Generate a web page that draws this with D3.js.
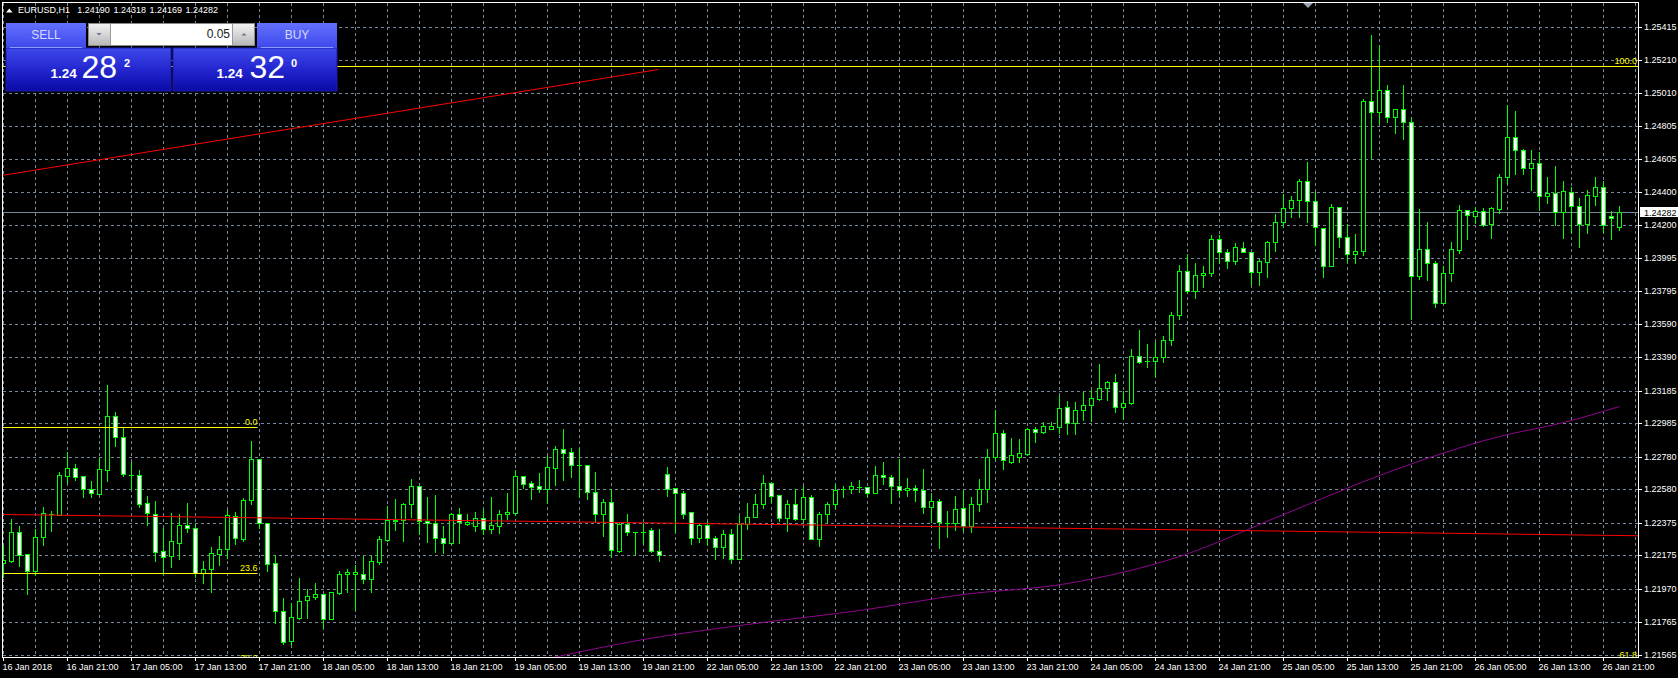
<!DOCTYPE html>
<html>
<head>
<meta charset="utf-8">
<script src="https://cdn.jsdelivr.net/npm/d3@7/dist/d3.min.js"></script>
<style>
html,body{margin:0;padding:0;background:#000;overflow:hidden;}
svg{display:block;}
</style>
</head>
<body>
<svg id="chart" width="1678" height="678"></svg>
<script>
// ---------------- DATA (EURUSD H1, 16 Jan 2018 13:00 -> 26 Jan 2018 23:00) ----------------
const opens = [1.22128,1.22140,1.22318,1.22183,1.22079,1.22287,1.22428,1.22422,1.22661,1.22710,
1.22661,1.22581,1.22551,1.22698,1.23029,1.22900,1.22667,1.22667,1.22496,1.22428,
1.22201,1.22171,1.22250,1.22361,1.22342,1.22067,1.22091,1.22183,1.22214,1.22416,
1.22275,1.22514,1.22765,1.22373,1.22128,1.21834,1.21650,1.21791,1.21901,1.21919,
1.21938,1.21785,1.21944,1.22060,1.22060,1.22060,1.22030,1.22134,1.22269,1.22385,
1.22391,1.22489,1.22600,1.22385,1.22373,1.22281,1.22250,1.22428,1.22367,1.22355,
1.22404,1.22336,1.22355,1.22428,1.22434,1.22661,1.22618,1.22600,1.22581,1.22710,
1.22827,1.22808,1.22729,1.22729,1.22563,1.22428,1.22502,1.22201,1.22367,1.22318,
1.22318,1.22330,1.22201,1.22673,1.22588,1.22557,1.22440,1.22281,1.22361,1.22281,
1.22226,1.22306,1.22152,1.22367,1.22410,1.22489,1.22618,1.22545,1.22404,1.22489,
1.22398,1.22532,1.22275,1.22428,1.22489,1.22581,1.22581,1.22594,1.22594,1.22557,
1.22667,1.22655,1.22600,1.22575,1.22588,1.22575,1.22471,1.22508,1.22373,1.22373,
1.22465,1.22355,1.22489,1.22581,1.22778,1.22925,1.22747,1.22778,1.22796,1.22949,
1.22931,1.22949,1.22961,1.23084,1.22986,1.23066,1.23096,1.23133,1.23201,1.23237,
1.23084,1.23109,1.23397,1.23366,1.23366,1.23391,1.23495,1.23648,1.23918,1.23795,
1.23893,1.23906,1.24114,1.24034,1.23979,1.24059,1.24034,1.23912,1.23973,1.24095,
1.24218,1.24304,1.24353,1.24469,1.24347,1.24181,1.23948,1.24310,1.24126,1.24022,
1.24040,1.24960,1.24892,1.25027,1.24862,1.24911,1.24831,1.23887,1.24053,1.23967,
1.23722,1.23906,1.24046,1.24292,1.24255,1.24286,1.24206,1.24298,1.24493,1.24739,
1.24659,1.24549,1.24580,1.24378,1.24396,1.24279,1.24402,1.24316,1.24206,1.24378,
1.24432,1.24255,1.24190];
const highs = [1.22238,1.22398,1.22355,1.22183,1.22336,1.22471,1.22447,1.22686,1.22808,1.22735,
1.22661,1.22630,1.22771,1.23219,1.23053,1.22961,1.22747,1.22698,1.22539,1.22508,
1.22342,1.22434,1.22428,1.22496,1.22367,1.22140,1.22226,1.22293,1.22453,1.22440,
1.22526,1.22876,1.22765,1.22373,1.22177,1.21913,1.21883,1.22036,1.21968,1.22005,
1.21938,1.21950,1.22079,1.22091,1.22116,1.22171,1.22171,1.22293,1.22477,1.22520,
1.22496,1.22643,1.22600,1.22532,1.22545,1.22355,1.22434,1.22465,1.22428,1.22440,
1.22459,1.22532,1.22453,1.22557,1.22698,1.22661,1.22630,1.22680,1.22784,1.22845,
1.22949,1.22833,1.22833,1.22729,1.22686,1.22520,1.22581,1.22379,1.22428,1.22318,
1.22373,1.22342,1.22336,1.22716,1.22588,1.22569,1.22440,1.22373,1.22379,1.22293,
1.22330,1.22336,1.22416,1.22496,1.22551,1.22667,1.22624,1.22545,1.22514,1.22581,
1.22600,1.22545,1.22440,1.22502,1.22612,1.22600,1.22624,1.22637,1.22594,1.22722,
1.22747,1.22667,1.22765,1.22649,1.22606,1.22704,1.22557,1.22520,1.22447,1.22539,
1.22575,1.22532,1.22643,1.22827,1.23066,1.22943,1.22894,1.22888,1.22955,1.22961,
1.22992,1.22992,1.23152,1.23121,1.23115,1.23176,1.23188,1.23348,1.23243,1.23286,
1.23182,1.23440,1.23556,1.23470,1.23482,1.23519,1.23666,1.23955,1.24022,1.23967,
1.23948,1.24138,1.24138,1.24053,1.24089,1.24095,1.24034,1.23991,1.24102,1.24267,
1.24390,1.24378,1.24481,1.24586,1.24402,1.24181,1.24328,1.24310,1.24206,1.24145,
1.24972,1.25364,1.25303,1.25058,1.24911,1.25058,1.24862,1.24298,1.24218,1.23979,
1.23948,1.24095,1.24322,1.24292,1.24310,1.24304,1.24310,1.24512,1.24935,1.24899,
1.24665,1.24659,1.24646,1.24493,1.24561,1.24469,1.24432,1.24365,1.24414,1.24493,
1.24469,1.24286,1.24318];
const lows = [1.22042,1.22134,1.22109,1.21938,1.22054,1.22238,1.22324,1.22422,1.22618,1.22637,
1.22532,1.22532,1.22551,1.22630,1.22845,1.22661,1.22581,1.22471,1.22361,1.22140,
1.22060,1.22103,1.22152,1.22318,1.22042,1.22005,1.21950,1.22116,1.22158,1.22244,
1.22263,1.22489,1.22342,1.22079,1.21760,1.21632,1.21632,1.21785,1.21791,1.21907,
1.21729,1.21785,1.21938,1.21950,1.21840,1.22005,1.21950,1.22122,1.22263,1.22330,
1.22263,1.22410,1.22306,1.22257,1.22195,1.22189,1.22244,1.22250,1.22361,1.22324,
1.22306,1.22312,1.22312,1.22398,1.22422,1.22588,1.22520,1.22563,1.22496,1.22606,
1.22637,1.22655,1.22532,1.22520,1.22379,1.22293,1.22171,1.22195,1.22299,1.22183,
1.22250,1.22195,1.22140,1.22539,1.22318,1.22404,1.22244,1.22257,1.22238,1.22152,
1.22158,1.22128,1.22152,1.22336,1.22410,1.22465,1.22502,1.22385,1.22324,1.22391,
1.22379,1.22275,1.22232,1.22379,1.22465,1.22532,1.22557,1.22563,1.22532,1.22557,
1.22612,1.22496,1.22532,1.22539,1.22508,1.22434,1.22379,1.22220,1.22287,1.22330,
1.22330,1.22318,1.22447,1.22502,1.22759,1.22704,1.22741,1.22747,1.22790,1.22870,
1.22925,1.22949,1.22925,1.22919,1.22919,1.23004,1.22998,1.23127,1.23127,1.23053,
1.23011,1.23102,1.23354,1.23329,1.23268,1.23360,1.23464,1.23624,1.23783,1.23752,
1.23820,1.23887,1.23967,1.23936,1.23961,1.24034,1.23832,1.23832,1.23881,1.24040,
1.24187,1.24249,1.24249,1.24218,1.24077,1.23881,1.23948,1.24065,1.23973,1.23967,
1.24016,1.24610,1.24819,1.24831,1.24764,1.24727,1.23624,1.23869,1.23863,1.23697,
1.23722,1.23856,1.24028,1.24114,1.24212,1.24194,1.24120,1.24273,1.24457,1.24512,
1.24512,1.24414,1.24292,1.24335,1.24200,1.24120,1.24151,1.24065,1.24151,1.24322,
1.24157,1.24114,1.24169];
const closes = [1.22146,1.22318,1.22177,1.22079,1.22287,1.22434,1.22428,1.22667,1.22710,1.22655,
1.22581,1.22557,1.22704,1.23029,1.22900,1.22673,1.22667,1.22489,1.22434,1.22195,
1.22165,1.22263,1.22361,1.22342,1.22067,1.22091,1.22189,1.22214,1.22422,1.22281,
1.22514,1.22765,1.22373,1.22122,1.21834,1.21644,1.21797,1.21895,1.21926,1.21938,
1.21785,1.21950,1.22060,1.22073,1.22073,1.22030,1.22140,1.22275,1.22391,1.22391,
1.22489,1.22600,1.22385,1.22373,1.22281,1.22250,1.22428,1.22379,1.22379,1.22404,
1.22336,1.22361,1.22428,1.22440,1.22661,1.22612,1.22594,1.22581,1.22716,1.22827,
1.22802,1.22729,1.22729,1.22563,1.22428,1.22502,1.22207,1.22367,1.22318,1.22318,
1.22318,1.22201,1.22177,1.22581,1.22557,1.22428,1.22281,1.22361,1.22281,1.22226,
1.22306,1.22152,1.22367,1.22410,1.22489,1.22618,1.22539,1.22404,1.22489,1.22398,
1.22532,1.22275,1.22428,1.22489,1.22575,1.22581,1.22600,1.22594,1.22557,1.22667,
1.22655,1.22600,1.22575,1.22588,1.22575,1.22471,1.22508,1.22379,1.22373,1.22459,
1.22355,1.22489,1.22581,1.22778,1.22925,1.22759,1.22790,1.22802,1.22949,1.22931,
1.22968,1.22968,1.23078,1.22986,1.23066,1.23096,1.23139,1.23201,1.23237,1.23084,
1.23109,1.23397,1.23360,1.23366,1.23391,1.23495,1.23648,1.23918,1.23795,1.23893,
1.23906,1.24114,1.24034,1.23979,1.24065,1.24034,1.23912,1.23979,1.24095,1.24218,
1.24304,1.24353,1.24469,1.24347,1.24187,1.23948,1.24310,1.24126,1.24022,1.24040,
1.24960,1.24892,1.25027,1.24862,1.24911,1.24831,1.23887,1.24053,1.23967,1.23722,
1.23906,1.24053,1.24292,1.24261,1.24286,1.24200,1.24304,1.24493,1.24739,1.24659,
1.24549,1.24580,1.24378,1.24396,1.24279,1.24408,1.24316,1.24206,1.24384,1.24432,
1.24200,1.24243,1.24282];

// time axis labels, one every 8 hourly bars (bar 0 = 16 Jan 13:00)
const timeLabels = ["16 Jan 2018","16 Jan 21:00","17 Jan 05:00","17 Jan 13:00","17 Jan 21:00",
"18 Jan 05:00","18 Jan 13:00","18 Jan 21:00","19 Jan 05:00","19 Jan 13:00","19 Jan 21:00",
"22 Jan 05:00","22 Jan 13:00","22 Jan 21:00","23 Jan 05:00","23 Jan 13:00","23 Jan 21:00",
"24 Jan 05:00","24 Jan 13:00","24 Jan 21:00","25 Jan 05:00","25 Jan 13:00","25 Jan 21:00",
"26 Jan 05:00","26 Jan 13:00","26 Jan 21:00"];
const timeLabelBars = [0,8,16,24,32,40,48,56,64,72,80,88,96,104,112,120,128,136,144,152,160,168,176,184,192,200];
const gridBars = [0,4,8,12,16,20,24,28,32,36,40,44,48,52,56,60,64,68,72,76,80,84,88,92,96,100,104,108,112,116,120,124,128,132,136,140,144,148,152,156,160,164,168,172,176,180,184,188,192,196,200,204];

// price axis tick labels
const priceTicks = [1.25415,1.25210,1.25010,1.24805,1.24605,1.24400,1.24200,1.23995,1.23795,1.23590,
1.23390,1.23185,1.22985,1.22780,1.22580,1.22375,1.22175,1.21970,1.21765,1.21565];

// moving average (purple), sampled values [bar, price]
const maBars   = [67, 80, 93, 107, 120, 133, 147, 160, 173, 187, 195, 202];
const maValues = [1.21533,1.21662,1.21754,1.21840,1.21938,1.22005,1.22171,1.22428,1.22686,1.22906,1.22992,1.23090];

// trend lines (red): [bar1, price1, bar2, price2]
const trendUpper = [-1, 1.24502, 81.85, 1.25154];
const trendLower = [0, 1.22428, 202, 1.22301];

// Fibonacci levels
const fibRightLabels = ["100.0", "61.8"];
const fibRightPrices = [1.25174, 1.21533];
const fibLeftLabels  = ["0.0", "23.6", "38.2"];
const fibLeftPrices  = [1.22961, 1.22067, 1.21514];
const fibLeftEndBar  = 31.75;

// one-click trading panel
const symbol = "EURUSD,H1";
const bid = 1.24282, ask = 1.24320, lot = "0.05";

// ---------------- DRAWING ----------------
const FONT = '"Liberation Sans", Arial, sans-serif';
const svg = d3.select("#chart").attr("font-family", FONT);
svg.append("rect").attr("width", 1678).attr("height", 678).attr("fill", "#000");

const L = 3, T = 3, R = 1638, B = 657;
const n = opens.length;
const x = d3.scaleLinear().domain([0, n - 1]).range([3, 3 + 8 * (n - 1)]);
const y = d3.scaleLinear().domain([1.21565, 1.25415]).range([654.8, 26.75]).interpolate(d3.interpolateRound);

const defs = svg.append("defs");
defs.append("clipPath").attr("id", "plotClip").append("rect")
  .attr("x", L).attr("y", T).attr("width", R - L).attr("height", B - T);

function vgrad(id, stops) {
  const g = defs.append("linearGradient").attr("id", id).attr("x1", 0).attr("y1", 0).attr("x2", 0).attr("y2", 1);
  stops.forEach(s => g.append("stop").attr("offset", s[0]).attr("stop-color", s[1]));
}
vgrad("hdrGrad", [[0, "#6470ff"], [1, "#3d48ea"]]);
vgrad("priceGrad", [[0, "#3e4aea"], [0.5, "#2326cf"], [1, "#0a0aa6"]]);
vgrad("spinGrad", [[0, "#f2f2f2"], [1, "#b9b9b9"]]);

const gridColor = "#778899";
const plotG = svg.append("g").attr("clip-path", "url(#plotClip)");

// grid
plotG.append("g").selectAll("line").data(priceTicks).join("line")
  .attr("x1", L).attr("x2", R).attr("y1", d => y(d) + 0.5).attr("y2", d => y(d) + 0.5)
  .attr("stroke", gridColor).attr("stroke-dasharray", "3,3");
plotG.append("g").selectAll("line").data(gridBars).join("line")
  .attr("x1", d => x(d) + 0.5).attr("x2", d => x(d) + 0.5).attr("y1", T).attr("y2", B)
  .attr("stroke", gridColor).attr("stroke-dasharray", "3,3");

// bid line
plotG.append("line").attr("x1", L).attr("x2", R)
  .attr("y1", y(bid) + 0.5).attr("y2", y(bid) + 0.5).attr("stroke", gridColor);

// candles
const bars = d3.range(n).map(i => ({ i, o: opens[i], h: highs[i], l: lows[i], c: closes[i] }));
const cg = plotG.append("g");
cg.selectAll("line.wick").data(bars).join("line").attr("class", "wick")
  .attr("x1", d => x(d.i) + 0.5).attr("x2", d => x(d.i) + 0.5)
  .attr("y1", d => y(d.h)).attr("y2", d => y(d.l) + 1)
  .attr("stroke", "#00ff00");
bars.forEach(d => {
  const yo = y(d.o), yc = y(d.c);
  const top = Math.min(yo, yc), bot = Math.max(yo, yc);
  const cx = x(d.i);
  if (top === bot) {
    cg.append("line").attr("x1", cx - 2).attr("x2", cx + 3).attr("y1", top + 0.5).attr("y2", top + 0.5)
      .attr("stroke", "#00ff00");
  } else {
    cg.append("rect").attr("x", cx - 1.5).attr("y", top + 0.5).attr("width", 4).attr("height", bot - top)
      .attr("fill", d.c > d.o ? "#000" : "#fff").attr("stroke", "#00ff00");
  }
});

// purple moving average
const maData = maBars.map((b, k) => ({ b, v: maValues[k] }));
plotG.append("path").datum(maData)
  .attr("d", d3.line().x(d => x(d.b) + 0.5).y(d => y(d.v) + 0.5).curve(d3.curveMonotoneX))
  .attr("fill", "none").attr("stroke", "#8e068e").attr("stroke-width", 1);

// trend lines
function seg(t) { return [x(t[0]) + 0.5, y(t[1]) + 0.5, x(t[2]) + 0.5, y(t[3]) + 0.5]; }
const tu = seg(trendUpper);
plotG.append("line").attr("x1", tu[0]).attr("y1", tu[1]).attr("x2", tu[2]).attr("y2", tu[3])
  .attr("stroke", "#ff0000");
const tl = seg(trendLower);
const slope = (tl[3] - tl[1]) / (tl[2] - tl[0]);
plotG.append("line").attr("x1", 0).attr("y1", tl[1] - slope * tl[0])
  .attr("x2", 1640).attr("y2", tl[1] + slope * (1640 - tl[0]))
  .attr("stroke", "#ff0000");

// fibonacci levels
const fibG = plotG.append("g").attr("font-size", 9).attr("fill", "#ffff00");
fibRightPrices.forEach((p, k) => {
  fibG.append("line").attr("x1", L).attr("x2", R).attr("y1", y(p) + 0.5).attr("y2", y(p) + 0.5).attr("stroke", "#ffff00");
  fibG.append("text").attr("x", R - 1).attr("y", y(p) - 2).attr("text-anchor", "end").text(fibRightLabels[k]);
});
const fibEndX = x(fibLeftEndBar) + 0.5;
fibLeftPrices.forEach((p, k) => {
  fibG.append("line").attr("x1", L).attr("x2", fibEndX).attr("y1", y(p) + 0.5).attr("y2", y(p) + 0.5).attr("stroke", "#ffff00");
  fibG.append("text").attr("x", fibEndX).attr("y", y(p) - 2).attr("text-anchor", "end").text(fibLeftLabels[k]);
});

// frame
svg.append("rect").attr("x", 2.5).attr("y", 2.5).attr("width", R - 2).attr("height", B - 2)
  .attr("fill", "none").attr("stroke", "#fff");

// chart-shift marker
svg.append("path").attr("d", "M1303,3 L1313,3 L1308,8 Z").attr("fill", "#9aa4b4");

// price axis
const yAxis = svg.append("g").attr("transform", "translate(1639,0)")
  .call(d3.axisRight(y).tickValues(priceTicks).tickFormat(d3.format(".5f")).tickSize(3).tickPadding(2));
yAxis.select(".domain").remove();
yAxis.attr("color", "#fff").attr("font-size", 9).attr("font-family", FONT);

// bid label
const bidG = svg.append("g");
bidG.append("rect").attr("x", 1640).attr("y", y(bid) - 5).attr("width", 38).attr("height", 10).attr("fill", "#fff");
bidG.append("text").attr("x", 1644).attr("y", y(bid) + 3.5).attr("font-size", 9).attr("fill", "#000")
  .text(d3.format(".5f")(bid));

// time axis
const xAxis = svg.append("g").attr("transform", "translate(0," + B + ")")
  .call(d3.axisBottom(x).tickValues(timeLabelBars).tickFormat((d, k) => timeLabels[k]).tickSize(4).tickPadding(3));
xAxis.select(".domain").remove();
xAxis.attr("color", "#fff").attr("font-size", 9).attr("font-family", FONT);
xAxis.selectAll("text").attr("text-anchor", "start").attr("x", -1);

// header
svg.append("path").attr("d", "M6,12.5 L12.5,12.5 L9.25,8.5 Z").attr("fill", "#fff");
const ht = svg.append("text").attr("x", 18).attr("y", 13).attr("font-size", 9).attr("fill", "#fff");
ht.append("tspan").text(symbol);
const lastOHLC = [opens[n - 1], highs[n - 1], lows[n - 1], closes[n - 1]];
lastOHLC.forEach((v, k) => ht.append("tspan").attr("dx", k === 0 ? 8 : 3.5).text(d3.format(".5f")(v)));

// one-click trading panel
const P = svg.append("g");
// SELL
P.append("rect").attr("x", 6).attr("y", 48).attr("width", 165).attr("height", 43).attr("fill", "url(#priceGrad)")
  .attr("stroke", "#1a1ab0").attr("stroke-width", 1);
P.append("rect").attr("x", 6).attr("y", 23).attr("width", 80).attr("height", 25).attr("fill", "url(#hdrGrad)");
P.append("line").attr("x1", 10).attr("x2", 82).attr("y1", 47.5).attr("y2", 47.5).attr("stroke", "#8e9aff");
// BUY
P.append("rect").attr("x", 173).attr("y", 48).attr("width", 164).attr("height", 43).attr("fill", "url(#priceGrad)")
  .attr("stroke", "#1a1ab0").attr("stroke-width", 1);
P.append("rect").attr("x", 257).attr("y", 23).attr("width", 80).attr("height", 25).attr("fill", "url(#hdrGrad)");
P.append("line").attr("x1", 261).attr("x2", 333).attr("y1", 47.5).attr("y2", 47.5).attr("stroke", "#8e9aff");
// lot box
P.append("rect").attr("x", 88.5).attr("y", 23.5).attr("width", 166).attr("height", 22).attr("fill", "#fff").attr("stroke", "#8a8a8a");
P.append("rect").attr("x", 89).attr("y", 24).attr("width", 21).attr("height", 21).attr("fill", "url(#spinGrad)");
P.append("rect").attr("x", 233).attr("y", 24).attr("width", 21).attr("height", 21).attr("fill", "url(#spinGrad)");
P.append("line").attr("x1", 110.5).attr("x2", 110.5).attr("y1", 24).attr("y2", 45).attr("stroke", "#9a9a9a");
P.append("line").attr("x1", 232.5).attr("x2", 232.5).attr("y1", 24).attr("y2", 45).attr("stroke", "#9a9a9a");
P.append("path").attr("d", "M96.5,33 L101.5,33 L99,35.5 Z").attr("fill", "#6a6f8a");
P.append("path").attr("d", "M241.5,35.5 L246.5,35.5 L244,33 Z").attr("fill", "#6a6f8a");
P.append("text").attr("x", 230).attr("y", 38).attr("text-anchor", "end").attr("font-size", 12).attr("fill", "#202020").text(lot);
P.append("text").attr("x", 46).attr("y", 39).attr("text-anchor", "middle").attr("font-size", 12).attr("fill", "#d4dbff").text("SELL");
P.append("text").attr("x", 297).attr("y", 39).attr("text-anchor", "middle").attr("font-size", 12).attr("fill", "#d4dbff").text("BUY");

function priceParts(p) {
  const s = d3.format(".5f")(p);
  return [s.slice(0, 4), s.slice(4, 6), s.slice(6)];
}
function bigPrice(p, x0, x1, x2) {
  const parts = priceParts(p);
  P.append("text").attr("x", x0).attr("y", 77.5).attr("font-size", 13.5).attr("font-weight", "bold").attr("fill", "#fff").text(parts[0]);
  P.append("text").attr("x", x1).attr("y", 77.5).attr("font-size", 32).attr("fill", "#fff").text(parts[1]);
  P.append("text").attr("x", x2).attr("y", 66.5).attr("font-size", 11).attr("font-weight", "bold").attr("fill", "#fff").text(parts[2]);
}
bigPrice(bid, 50.5, 81.5, 124);
bigPrice(ask, 216.5, 249.5, 291);
</script>
</body>
</html>
